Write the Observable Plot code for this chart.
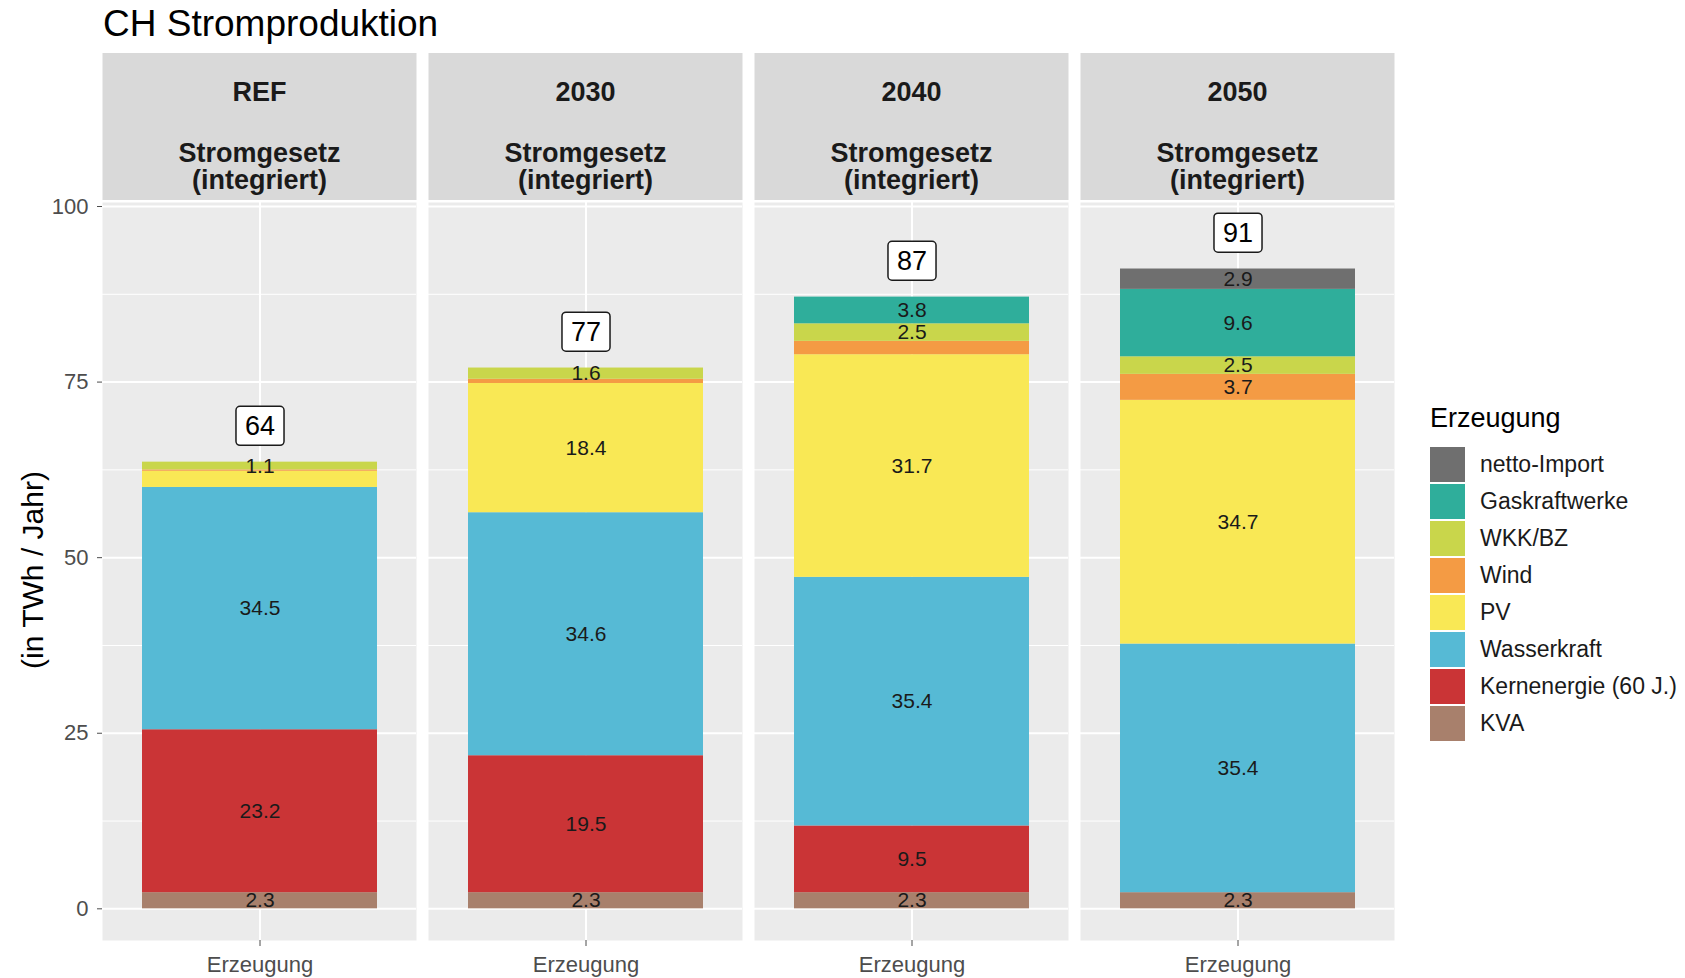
<!DOCTYPE html>
<html>
<head>
<meta charset="utf-8">
<script src="https://cdn.jsdelivr.net/npm/d3@7"></script>
<script src="https://cdn.jsdelivr.net/npm/@observablehq/plot@0.6"></script>
<style>
  html, body { margin: 0; padding: 0; background: #fff; }
  #page { position: relative; width: 1685px; height: 978px; overflow: hidden; font-family: "Liberation Sans", Arial, sans-serif; }
  #title { position: absolute; left: 103px; top: 5px; font-size: 37px; line-height: 37px; color: #000; white-space: nowrap; }
  #chart { position: absolute; left: 0; top: 50px; }
  #ytitle { position: absolute; left: 33px; top: 570px; transform: translate(-50%, -50%) rotate(-90deg); font-size: 30px; color: #000; white-space: nowrap; }
  #legend { position: absolute; left: 1430px; top: 400px; }
  #legend .lt { font-size: 27px; line-height: 36px; color: #000; margin-bottom: 10px; white-space: nowrap; }
  #legend .row { display: flex; align-items: center; height: 37px; }
  #legend .key { width: 35px; height: 35px; margin: 1px 0; }
  #legend .lab { margin-left: 15px; font-size: 23px; color: #1A1A1A; white-space: nowrap; }
</style>
</head>
<body>
<div id="page">
  <div id="title">CH Stromproduktion</div>
  <div id="chart"></div>
  <div id="ytitle">(in TWh / Jahr)</div>
  <div id="legend"></div>
</div>
<script>
// ---------- data ----------
const scenarios = ["REF", "2030", "2040", "2050"];
const stripSubtitle = "Stromgesetz\n(integriert)";
const xLabel = "Erzeugung";
// stacking order, bottom to top
const categories = ["KVA", "Kernenergie (60 J.)", "Wasserkraft", "PV", "Wind", "WKK/BZ", "Gaskraftwerke", "netto-Import"];
const colors = ["#A8806C", "#CA3436", "#56BAD5", "#F9E855", "#F49B44", "#C9D64B", "#2FAE9B", "#6F6F6F"];
// values per category, one per scenario (TWh/Jahr)
const kva        = [2.3, 2.3, 2.3, 2.3];
const kern       = [23.2, 19.5, 9.5, 0];
const wasser     = [34.5, 34.6, 35.4, 35.4];
const pv         = [2.3, 18.4, 31.7, 34.7];
const wind       = [0.2, 0.6, 1.9, 3.7];
const wkk        = [1.1, 1.6, 2.5, 2.5];
const gas        = [0, 0, 3.8, 9.6];
const nettoImport = [0, 0, 0, 2.9];
const seriesValues = [kva, kern, wasser, pv, wind, wkk, gas, nettoImport];
// segment labels not printed in the reference
const hiddenLabels = [["REF", "PV"], ["REF", "Wind"], ["2030", "Wind"], ["2040", "Wind"]];

// ---------- table ----------
const rows = [];
scenarios.forEach((s, i) => {
  categories.forEach((c, j) => {
    const v = seriesValues[j][i];
    if (v > 0) rows.push({scenario: s, xcat: xLabel, category: c, value: v});
  });
});
const isHidden = d => hiddenLabels.some(([s, c]) => s === d.scenario && c === d.category);
const totals = scenarios.map(s => ({scenario: s, xcat: xLabel, total: d3.sum(rows.filter(r => r.scenario === s), r => r.value)}));
const strips = scenarios.map(s => ({scenario: s}));

const plot = Plot.plot({
  width: 1685,
  height: 928,
  marginTop: 152,
  marginBottom: 38,
  marginLeft: 102,
  marginRight: 291,
  style: {fontFamily: '"Liberation Sans", Arial, sans-serif', background: "transparent"},
  fx: {domain: scenarios, paddingInner: 0.037, paddingOuter: 0, axis: null, label: null},
  x: {domain: [xLabel], paddingInner: 0.1, paddingOuter: 0.15, label: null},
  y: {domain: [-4.51, 100.57], label: null},
  color: {domain: categories, range: colors},
  marks: [
    Plot.frame({fill: "#EBEBEB"}),
    Plot.gridY({ticks: [12.5, 37.5, 62.5, 87.5], stroke: "white", strokeOpacity: 1, strokeWidth: 1}),
    Plot.gridY({ticks: [0, 25, 50, 75, 100], stroke: "white", strokeOpacity: 1, strokeWidth: 2}),
    Plot.gridX({stroke: "white", strokeOpacity: 1, strokeWidth: 2}),
    Plot.axisY({ticks: [0, 25, 50, 75, 100], tickSize: 5, tickPadding: 9, fontSize: 22, color: "#4D4D4D", label: null}),
    Plot.axisX({tickSize: 6, tickPadding: 10, fontSize: 22, color: "#4D4D4D", label: null}),
    Plot.barY(rows, {fx: "scenario", x: "xcat", y: "value", fill: "category"}),
    Plot.text(rows, Plot.stackY({fx: "scenario", x: "xcat", y: "value", text: d => isHidden(d) ? "" : d3.format(".1f")(d.value), fontSize: 21, fill: "#1A1A1A"})),
    Plot.text(totals, {fx: "scenario", x: "xcat", y: "total", text: d => d3.format(".0f")(d.total), dy: -36, fontSize: 27, fill: "#000000", ariaDescription: "totals"}),
    Plot.text(strips, {fx: "scenario", text: "scenario", frameAnchor: "top", dy: -120.5, fontSize: 27, fontWeight: "bold", fill: "#1A1A1A"}),
    Plot.text(strips, {fx: "scenario", text: () => stripSubtitle, frameAnchor: "top", dy: -60, lineHeight: 1.0, fontSize: 27, fontWeight: "bold", fill: "#1A1A1A"})
  ]
});
document.getElementById("chart").append(plot);

// strip backgrounds, aligned to each facet frame
const svg = plot.tagName.toLowerCase() === "svg" ? plot : plot.querySelector("svg");
const svgBox = svg.getBoundingClientRect();
const NS = "http://www.w3.org/2000/svg";
svg.querySelectorAll('g[aria-label="frame"] rect').forEach(fr => {
  const b = fr.getBoundingClientRect();
  const r = document.createElementNS(NS, "rect");
  r.setAttribute("x", b.left - svgBox.left);
  r.setAttribute("width", b.width);
  r.setAttribute("y", 3);
  r.setAttribute("height", 147);
  r.setAttribute("fill", "#D9D9D9");
  svg.insertBefore(r, svg.firstChild);
});

// label boxes behind the totals
const totalTexts = new Set([...svg.querySelectorAll('g[aria-description="totals"] text, g[fill="#000000"] text')]);
totalTexts.forEach(t => {
  const b = t.getBBox();
  const r = document.createElementNS(NS, "rect");
  r.setAttribute("x", b.x - 9);
  r.setAttribute("y", b.y + b.height / 2 - 19.5);
  r.setAttribute("width", b.width + 18);
  r.setAttribute("height", 39);
  r.setAttribute("rx", 4);
  r.setAttribute("fill", "white");
  r.setAttribute("stroke", "#1A1A1A");
  r.setAttribute("stroke-width", 1.5);
  if (t.getAttribute("transform")) r.setAttribute("transform", t.getAttribute("transform"));
  t.parentNode.insertBefore(r, t);
});

// legend built from the color scale, top to bottom = reverse stacking order
const cs = plot.scale("color");
const legend = d3.select("#legend");
legend.append("div").attr("class", "lt").text(xLabel);
cs.domain.slice().reverse().forEach(c => {
  const row = legend.append("div").attr("class", "row");
  row.append("div").attr("class", "key").style("background", cs.range[cs.domain.indexOf(c)]);
  row.append("div").attr("class", "lab").text(c);
});
</script>
</body>
</html>
